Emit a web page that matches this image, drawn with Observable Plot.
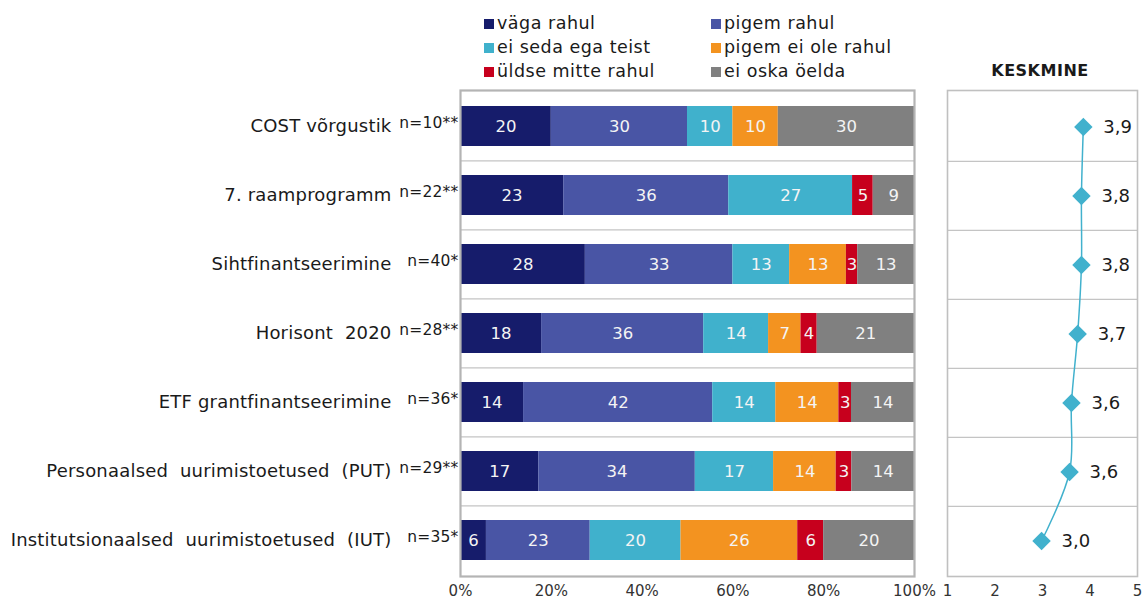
<!DOCTYPE html>
<html>
<head>
<meta charset="utf-8">
<script src="https://cdn.jsdelivr.net/npm/d3@7"></script>
<script src="https://cdn.jsdelivr.net/npm/@observablehq/plot@0.6"></script>
<style>
  html, body { margin: 0; padding: 0; background: #fff; }
  #wrap { position: relative; width: 1142px; height: 601px; font-family: "DejaVu Sans", Verdana, sans-serif; color: #1a1a1a; overflow: hidden; }
  .abs { position: absolute; }
  #legend { position: absolute; left: 0; top: 0; }
  .li { position: absolute; font-size: 17.5px; line-height: 20px; white-space: nowrap; letter-spacing: 0.5px; }
  .sw { display: inline-block; width: 10px; height: 10px; margin-right: 3px; vertical-align: 0px; }
  #kesk { position: absolute; left: 940px; width: 200px; top: 61px; text-align: center; font-weight: bold; font-size: 16px; letter-spacing: 0.5px; }
  #left svg g[aria-label="y-axis tick label"] text { letter-spacing: 0.2px; }
</style>
</head>
<body>
<div id="wrap">
  <div id="legend"></div>
  <div id="kesk">KESKMINE</div>
  <div id="left" class="abs" style="left:0;top:0"></div>
  <div id="right" class="abs" style="left:920px;top:0"></div>
</div>
<script>
// ---- data ----
const categories = [
  "COST võrgustik",
  "7. raamprogramm",
  "Sihtfinantseerimine",
  "Horisont  2020",
  "ETF grantfinantseerimine",
  "Personaalsed  uurimistoetused  (PUT)",
  "Institutsionaalsed  uurimistoetused  (IUT)"
];
const nLabels = ["n=10**", "n=22**", "n=40*", "n=28**", "n=36*", "n=29**", "n=35*"];
const responses = ["väga rahul", "pigem rahul", "ei seda ega teist", "pigem ei ole rahul", "üldse mitte rahul", "ei oska öelda"];
const colors = ["#161c6b", "#4955a5", "#40b1cc", "#f39320", "#c7001d", "#808080"];

const vagaRahul        = [20, 22.73, 27.5, 17.86, 13.89, 17.24, 5.71];
const pigemRahul       = [30, 36.36, 32.5, 35.71, 41.67, 34.48, 22.86];
const eiSedaEgaTeist   = [10, 27.27, 12.5, 14.29, 13.89, 17.24, 20.0];
const pigemEiOleRahul  = [10, 0,     12.5, 7.14,  13.89, 13.79, 25.71];
const uldseMitteRahul  = [0,  4.55,  2.5,  3.57,  2.78,  3.45,  5.71];
const eiOskaOelda      = [30, 9.09,  12.5, 21.43, 13.89, 13.79, 20.0];

const meanValues = [3.86, 3.82, 3.82, 3.74, 3.61, 3.57, 2.98];
const meanLabels = ["3,9", "3,8", "3,8", "3,7", "3,6", "3,6", "3,0"];

const xTicks = [0, 20, 40, 60, 80, 100];
const meanTicks = [1, 2, 3, 4, 5];

// ---- build table ----
const series = [vagaRahul, pigemRahul, eiSedaEgaTeist, pigemEiOleRahul, uldseMitteRahul, eiOskaOelda];
const rows = [];
categories.forEach((c, i) => {
  responses.forEach((r, j) => rows.push({cat: c, resp: r, value: series[j][i]}));
});
const means = categories.map((c, i) => ({cat: c, mean: meanValues[i], label: meanLabels[i]}));

// ---- legend ----
const legend = document.getElementById("legend");
const legPos = [[484, 13], [711, 13], [484, 37], [711, 37], [484, 61], [711, 61]];
responses.forEach((r, j) => {
  const d = document.createElement("div");
  d.className = "li";
  d.style.left = legPos[j][0] + "px";
  d.style.top = legPos[j][1] + "px";
  d.innerHTML = `<span class="sw" style="background:${colors[j]}"></span>${r}`;
  legend.appendChild(d);
});

// ---- layout ----
const H = 601, mTop = 90, mBottom = 25;
const step = (H - mTop - mBottom) / categories.length;
const font = "DejaVu Sans, Verdana, sans-serif";

const left = Plot.plot({
  width: 940, height: H,
  marginLeft: 460, marginRight: 26, marginTop: mTop, marginBottom: mBottom,
  style: {fontFamily: font, background: "transparent", overflow: "visible"},
  x: {domain: [0, 100], axis: null},
  y: {type: "band", domain: categories, paddingInner: 0.42, paddingOuter: 0.21, axis: null},
  color: {domain: responses, range: colors},
  marks: [
    Plot.ruleY(categories.slice(1), {y: d => d, dy: -step / 2, stroke: "#c4c4c4", strokeWidth: 1.2}),
    Plot.barX(rows, Plot.stackX({x: "value", y: "cat", fill: "resp", order: responses})),
    Plot.text(rows, Plot.stackX({
      x: "value", y: "cat", z: "resp", order: responses,
      text: d => d.value > 0 ? String(Math.round(d.value)) : "",
      fill: "#f4f4f4", fontSize: 16.5
    })),
    Plot.frame({stroke: "#b4b4b4", strokeWidth: 2.2}),
    Plot.axisY({tickSize: 0, tickPadding: 69, fontSize: 18, fill: "#1a1a1a", label: null}),
    Plot.axisY({tickSize: 0, tickPadding: 2, fontSize: 15.5, fill: "#1a1a1a", dy: -3, label: null,
      tickFormat: d => nLabels[categories.indexOf(d)]}),
    Plot.axisX({ticks: xTicks, tickSize: 0, tickPadding: 9, fontSize: 15, fill: "#333", label: null,
      tickFormat: d => d + "%"})
  ]
});
document.getElementById("left").appendChild(left);

const right = Plot.plot({
  width: 222, height: H,
  marginLeft: 27, marginRight: 5, marginTop: mTop, marginBottom: mBottom,
  style: {fontFamily: font, background: "transparent", overflow: "visible"},
  x: {domain: [1, 5], axis: null},
  y: {type: "band", domain: categories, padding: 0, axis: null},
  marks: [
    Plot.ruleY(categories.slice(1), {y: d => d, dy: -step / 2, stroke: "#c4c4c4", strokeWidth: 1.2}),
    Plot.frame({stroke: "#c0c0c0", strokeWidth: 1.6}),
    Plot.line(means, {x: "mean", y: "cat", stroke: "#41b1cd", strokeWidth: 1.5, curve: "catmull-rom"}),
    Plot.dot(means, {x: "mean", y: "cat", symbol: "diamond2", r: 8.3, fill: "#41b1cd", stroke: "none"}),
    Plot.text(means, {x: "mean", y: "cat", text: "label", dx: 20, textAnchor: "start", fontSize: 18, fill: "#1a1a1a"}),
    Plot.axisX({ticks: meanTicks, tickSize: 0, tickPadding: 9, fontSize: 15, fill: "#333", label: null,
      tickFormat: d => String(d)})
  ]
});
document.getElementById("right").appendChild(right);
</script>
</body>
</html>
